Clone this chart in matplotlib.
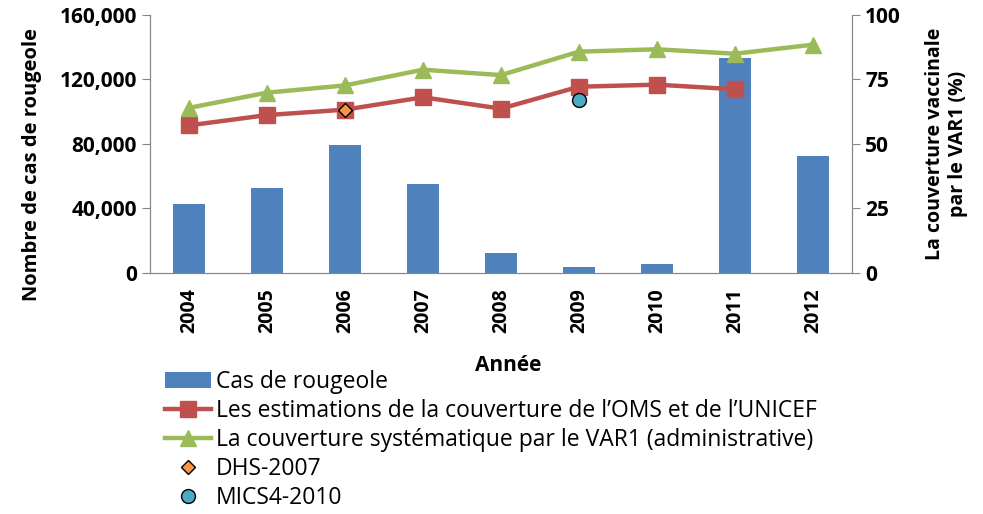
import numpy as np
import matplotlib
matplotlib.use('Agg')
import matplotlib.pyplot as plt
from matplotlib.ticker import FuncFormatter

years = ['2004', '2005', '2006', '2007', '2008', '2009', '2010', '2011', '2012']
cases = [42800, 52700, 79600, 55400, 12200, 3500, 5400, 133100, 72700]
oms_unicef = [57.2, 61.2, 63.3, 68.1, 63.7, 72.2, 73.0, 71.2]   # 2004-2011
admin_var1 = [64.0, 69.9, 72.7, 78.8, 76.7, 85.8, 86.7, 85.0, 88.5]
dhs_year, dhs_value = '2006', 63.1
mics_year, mics_value = '2009', 67.0

plt.rcParams['font.family'] = ['Open Sans', 'DejaVu Sans']

fig = plt.figure(figsize=(9.83, 5.14), dpi=100)
ax = fig.add_axes([0.1526, 0.469, 0.7141, 0.5018])
ax2 = ax.twinx()

x = np.arange(len(years))
bars = ax.bar(x, cases, width=0.42, color='#4F81BD', label='Cas de rougeole', zorder=2)
ax.set_ylim(0, 160000)
ax.set_yticks(np.arange(0, 160001, 40000))
ax.yaxis.set_major_formatter(FuncFormatter(lambda v, p: f'{int(v):,}'))
ax.set_xlim(-0.5, len(years) - 0.5)
ax.set_xticks(x)
ax.set_xticklabels(years, rotation=90, fontweight='bold', fontsize=14)

l1, = ax2.plot(x[:len(oms_unicef)], oms_unicef, color='#C0504D', lw=3.2, marker='s', ms=11.5,
               label="Les estimations de la couverture de l\u2019OMS et de l\u2019UNICEF")
l2, = ax2.plot(x, admin_var1, color='#9BBB59', lw=3.2, marker='^', ms=11.5,
               label='La couverture syst\u00e9matique par le VAR1 (administrative)')
l3, = ax2.plot([years.index(dhs_year)], [dhs_value], ls='none', marker='D', ms=7,
               mfc='#F79646', mec='black', mew=1, label='DHS-2007')
l4, = ax2.plot([years.index(mics_year)], [mics_value], ls='none', marker='o', ms=10,
               mfc='#4BACC6', mec='black', mew=1, label='MICS4-2010')
ax2.set_ylim(0, 100)
ax2.set_yticks([0, 25, 50, 75, 100])

for a in (ax, ax2):
    a.spines['top'].set_visible(False)
    for s in ('left', 'right', 'bottom'):
        a.spines[s].set_color('#868686')
    a.tick_params(axis='y', colors='#868686', labelcolor='black', labelsize=15, length=6)
    for t in a.get_yticklabels():
        t.set_fontweight('bold')
ax.tick_params(axis='x', length=0, pad=11)

ax.set_ylabel('Nombre de cas de rougeole', fontsize=14.5, fontweight='bold')
ax.yaxis.set_label_coords(-0.168, 0.42)
ax.yaxis.label.set_va('center')
ax2.set_ylabel('La couverture vaccinale\npar le VAR1 (%)', fontsize=14, fontweight='bold')
ax2.yaxis.set_label_coords(1.135, 0.5)
ax2.yaxis.label.set_va('center')
ax.set_xlabel('Ann\u00e9e', fontsize=15, fontweight='bold')
ax.xaxis.set_label_coords(0.51, -0.357)
ax.xaxis.label.set_va('center')

fig.legend(handles=[bars, l1, l2, l3, l4], loc='upper left',
           bbox_to_anchor=(0.168, 0.281), bbox_transform=fig.transFigure,
           frameon=False, fontsize=16.5, handlelength=2.0, handletextpad=0.2,
           labelspacing=0.22, borderaxespad=0, borderpad=0)

fig.savefig('out.png', dpi=100)
